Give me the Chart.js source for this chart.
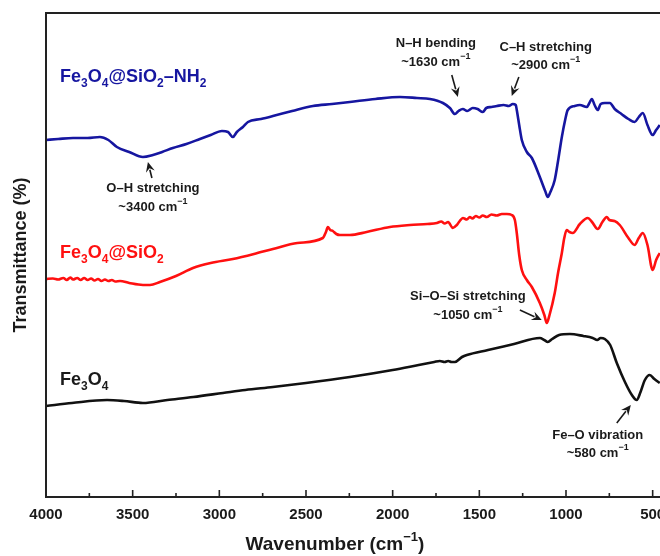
<!DOCTYPE html>
<html>
<head>
<meta charset="utf-8">
<script src="https://cdn.jsdelivr.net/npm/chart.js@4.4.1/dist/chart.umd.min.js"></script>
<style>
  html, body { margin: 0; padding: 0; background: #fff; overflow: hidden; width: 660px; height: 556px; }
  canvas { display: block; }
</style>
</head>
<body>
<canvas id="ftirChart" width="680" height="556"></canvas>
<script>
// x ticks (wavenumber, cm-1)
const xTicks = [4000, 3500, 3000, 2500, 2000, 1500, 1000, 500];

// Fe3O4@SiO2-NH2 (blue)
const nh2Wn = [4000, 3930, 3844, 3760, 3689, 3640, 3591, 3520, 3441, 3383, 3330, 3268, 3190, 3112, 3050, 2985, 2950, 2922, 2899, 2864, 2835, 2760, 2691, 2580, 2460, 2350, 2247, 2100, 1958, 1860, 1785, 1710, 1670, 1641, 1620, 1595, 1570, 1538, 1510, 1480, 1460, 1430, 1399, 1360, 1330, 1307, 1290, 1284, 1270, 1255, 1226, 1197, 1151, 1120, 1105, 1090, 1065, 1045, 1024, 1005, 990, 950, 920, 880, 865, 851, 835, 817, 800, 776, 747, 719, 680, 640, 604, 580, 557, 530, 500, 480, 459];
const nh2T = [360, 361, 362, 362, 363, 360, 353, 348, 343, 345, 348, 352, 356, 361, 365, 369, 368, 363, 368, 373, 378, 381, 384, 389, 394, 396, 398, 401, 403, 402, 401, 397, 392, 386, 389, 391, 389, 392, 391, 388, 392, 393, 394, 395, 394, 396, 395, 390, 375, 360, 348, 342, 323, 309, 303, 308, 320, 340, 363, 380, 390, 394, 395, 393, 397, 401, 395, 390, 396, 397, 397, 391, 386, 381, 378, 383, 387, 375, 365, 370, 375];

// Fe3O4@SiO2 (red)
const sioWn = [4000, 3960, 3930, 3900, 3880, 3860, 3844, 3820, 3800, 3780, 3760, 3740, 3720, 3700, 3680, 3660, 3640, 3620, 3600, 3573, 3520, 3441, 3400, 3343, 3250, 3152, 3050, 2922, 2800, 2691, 2550, 2403, 2385, 2374, 2360, 2345, 2325, 2305, 2247, 2150, 2016, 1900, 1800, 1745, 1720, 1700, 1680, 1653, 1630, 1613, 1595, 1572, 1555, 1540, 1520, 1500, 1480, 1457, 1430, 1400, 1370, 1341, 1313, 1295, 1284, 1270, 1255, 1226, 1197, 1151, 1125, 1111, 1095, 1065, 1045, 1024, 1010, 996, 980, 961, 920, 874, 850, 817, 790, 765, 750, 720, 690, 640, 604, 580, 557, 530, 500, 480, 459];
const sioT = [221, 221.5, 220.5, 222, 220, 222.5, 220.5, 222, 220, 222, 220, 221.5, 219.5, 221, 219, 220.5, 219, 220, 218.5, 219, 217, 215, 215, 218, 224, 232, 237, 241, 246, 251, 257, 262, 268, 273, 270, 269, 266, 265, 265, 268, 273, 275, 276, 277, 278.5, 276.5, 278, 272, 275, 279, 282, 280.5, 283, 281.5, 284, 282.5, 284.5, 283, 285.5, 284.5, 286, 286, 285, 280, 267, 245, 230, 220, 213, 197, 185, 177, 185, 207, 228, 247, 262, 270, 268, 267, 276, 282, 278, 271, 278, 283, 280, 279, 275, 262, 255, 262, 267, 255, 230, 240, 247];

// Fe3O4 (black)
const feWn = [4000, 3850, 3648, 3550, 3441, 3300, 3150, 2979, 2850, 2691, 2500, 2247, 2000, 1850, 1760, 1728, 1700, 1680, 1660, 1641, 1600, 1572, 1450, 1300, 1151, 1125, 1105, 1080, 1040, 978, 900, 846, 820, 800, 776, 745, 707, 660, 620, 592, 570, 545, 517, 490, 459];
const feT = [94, 97, 100, 99, 97, 100, 103, 107, 110, 113, 117, 123, 130, 135, 138, 139, 138, 139, 138, 138, 143, 145, 150, 156, 162, 160, 158, 161, 165, 166, 164, 162, 160, 162, 161, 155, 137, 118, 105, 100, 108, 120, 125, 121, 117];

const FONT = "'Liberation Sans', Arial, sans-serif";
const INK = '#1a1a1a';

function toPoints(xs, ys) {
  return xs.map((x, i) => ({ x: x, y: ys[i] }));
}

// text with {_sub} and {^sup} parts
function drawRich(ctx, str, x, y, size, color, align) {
  const parts = [];
  const re = /\{([_^])([^}]*)\}/g;
  let last = 0, m;
  while ((m = re.exec(str)) !== null) {
    if (m.index > last) parts.push({ t: str.slice(last, m.index), k: '' });
    parts.push({ t: m[2], k: m[1] });
    last = re.lastIndex;
  }
  if (last < str.length) parts.push({ t: str.slice(last), k: '' });

  const small = Math.round(size * 0.68);
  let total = 0;
  parts.forEach(p => {
    ctx.font = 'bold ' + (p.k ? small : size) + 'px ' + FONT;
    p.w = ctx.measureText(p.t).width;
    total += p.w;
  });
  let cx = align === 'left' ? x : x - total / 2;
  ctx.fillStyle = color;
  ctx.textAlign = 'left';
  parts.forEach(p => {
    ctx.font = 'bold ' + (p.k ? small : size) + 'px ' + FONT;
    let dy = 0;
    if (p.k === '_') dy = size * 0.3;
    if (p.k === '^') dy = -size * 0.42;
    ctx.fillText(p.t, cx, y + dy);
    cx += p.w;
  });
}

function drawArrow(ctx, x1, y1, x2, y2) {
  const ang = Math.atan2(y2 - y1, x2 - x1);
  const hl = 10, hw = 4.5;
  ctx.strokeStyle = INK;
  ctx.fillStyle = INK;
  ctx.lineWidth = 1.6;
  ctx.beginPath();
  ctx.moveTo(x1, y1);
  ctx.lineTo(x2 - Math.cos(ang) * hl * 0.8, y2 - Math.sin(ang) * hl * 0.8);
  ctx.stroke();
  ctx.beginPath();
  ctx.moveTo(x2, y2);
  ctx.lineTo(x2 - Math.cos(ang) * hl - Math.sin(ang) * hw, y2 - Math.sin(ang) * hl + Math.cos(ang) * hw);
  ctx.lineTo(x2 - Math.cos(ang) * hl * 0.65, y2 - Math.sin(ang) * hl * 0.65);
  ctx.lineTo(x2 - Math.cos(ang) * hl + Math.sin(ang) * hw, y2 - Math.sin(ang) * hl - Math.cos(ang) * hw);
  ctx.closePath();
  ctx.fill();
}

// peak notes, placed in data units (wavenumber, transmittance)
const notes = [
  { lines: ['N–H bending', '~1630 cm{^−1}'], wn: 1751, t: [457, 438], from: [1659, 425], to: [1624, 403] },
  { lines: ['C–H stretching', '~2900 cm{^−1}'], wn: 1117, t: [453, 435], from: [1272, 423], to: [1313, 404] },
  { lines: ['O–H stretching', '~3400 cm{^−1}'], wn: 3383, t: [312, 293], from: [3389, 322], to: [3412, 338] },
  { lines: ['Si–O–Si stretching', '~1050 cm{^−1}'], wn: 1566, t: [204, 185], from: [1266, 190], to: [1140, 180] },
  { lines: ['Fe–O vibration', '~580 cm{^−1}'], wn: 817, t: [65, 47], from: [707, 77], to: [626, 95] }
];

const seriesLabels = [
  { text: 'Fe{_3}O{_4}@SiO{_2}–NH{_2}', color: '#1616a0', wn: 3919, t: 418 },
  { text: 'Fe{_3}O{_4}@SiO{_2}', color: '#ff1010', wn: 3919, t: 242 },
  { text: 'Fe{_3}O{_4}', color: INK, wn: 3919, t: 115 }
];

const framePlugin = {
  id: 'frame',
  afterDatasetsDraw(chart) {
    const { ctx, chartArea: a, scales: { x, y } } = chart;
    ctx.save();
    ctx.strokeStyle = '#222';
    ctx.lineWidth = 2;
    ctx.strokeRect(a.left, a.top, a.right - a.left, a.bottom - a.top);
    // inward ticks, minor every 250
    ctx.lineWidth = 1.6;
    for (let v = 500; v <= 4000; v += 250) {
      const px = x.getPixelForValue(v);
      const len = v % 500 === 0 ? 7 : 4;
      ctx.beginPath();
      ctx.moveTo(px, a.bottom);
      ctx.lineTo(px, a.bottom - len);
      ctx.stroke();
    }

    ctx.textBaseline = 'middle';
    notes.forEach(n => {
      const cx = x.getPixelForValue(n.wn);
      drawRich(ctx, n.lines[0], cx, y.getPixelForValue(n.t[0]), 13, INK, 'center');
      drawRich(ctx, n.lines[1], cx, y.getPixelForValue(n.t[1]), 13, INK, 'center');
      drawArrow(ctx, x.getPixelForValue(n.from[0]), y.getPixelForValue(n.from[1]),
        x.getPixelForValue(n.to[0]), y.getPixelForValue(n.to[1]));
    });

    ctx.textBaseline = 'alphabetic';
    seriesLabels.forEach(s => {
      drawRich(ctx, s.text, x.getPixelForValue(s.wn), y.getPixelForValue(s.t), 18, s.color, 'left');
    });

    // x axis title
    ctx.textBaseline = 'middle';
    drawRich(ctx, 'Wavenumber (cm{^−1})', x.getPixelForValue(2333), x.bottom - 11, 19, INK, 'center');
    ctx.restore();
  }
};

const ctx = document.getElementById('ftirChart').getContext('2d');
new Chart(ctx, {
  type: 'line',
  data: {
    datasets: [
      { label: 'Fe3O4', data: toPoints(feWn, feT), borderColor: '#111111' },
      { label: 'Fe3O4@SiO2', data: toPoints(sioWn, sioT), borderColor: '#ff1010' },
      { label: 'Fe3O4@SiO2-NH2', data: toPoints(nh2Wn, nh2T), borderColor: '#1616a0' }
    ]
  },
  options: {
    responsive: false,
    animation: false,
    layout: { padding: { top: 13, right: 10, left: 0, bottom: 0 } },
    plugins: { legend: { display: false }, tooltip: { enabled: false } },
    elements: {
      point: { radius: 0 },
      line: { borderWidth: 2.6, cubicInterpolationMode: 'monotone', fill: false }
    },
    scales: {
      x: {
        type: 'linear',
        reverse: true,
        min: 400,
        max: 4000,
        afterBuildTicks: s => { s.ticks = xTicks.map(v => ({ value: v })); },
        afterFit: s => { s.height = 59; },
        grid: { display: false, drawTicks: false },
        border: { display: false },
        ticks: {
          color: INK,
          font: { family: FONT, size: 15, weight: 'bold' },
          padding: 9,
          maxRotation: 0,
          autoSkip: false,
          callback: v => String(v)
        }
      },
      y: {
        min: 3,
        max: 487,
        afterFit: s => { s.width = 46; },
        grid: { display: false, drawTicks: false },
        border: { display: false },
        ticks: { display: false },
        title: {
          display: true,
          text: 'Transmittance (%)',
          color: INK,
          font: { family: FONT, size: 18, weight: 'bold' },
          padding: { top: 10, bottom: 0 }
        }
      }
    }
  },
  plugins: [framePlugin]
});
</script>
</body>
</html>
